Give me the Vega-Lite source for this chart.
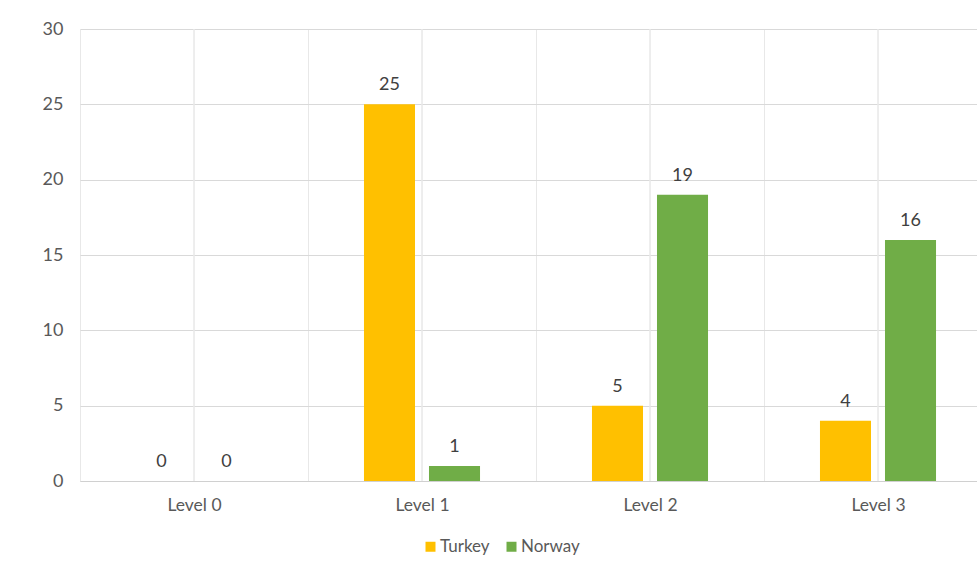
{
  "$schema": "https://vega.github.io/schema/vega-lite/v6.json",
  "width": 897,
  "height": 452,
  "autosize": {"type": "none"},
  "padding": {"left": 80, "top": 29, "right": 0, "bottom": 91},
  "background": "white",
  "config": {"view": {"stroke": null}, "font": "Lato"},
  "data": {
    "values": [
      {"Level": "Level 0", "Country": "Turkey", "Value": 0},
      {"Level": "Level 0", "Country": "Norway", "Value": 0},
      {"Level": "Level 1", "Country": "Turkey", "Value": 25},
      {"Level": "Level 1", "Country": "Norway", "Value": 1},
      {"Level": "Level 2", "Country": "Turkey", "Value": 5},
      {"Level": "Level 2", "Country": "Norway", "Value": 19},
      {"Level": "Level 3", "Country": "Turkey", "Value": 4},
      {"Level": "Level 3", "Country": "Norway", "Value": 16}
    ]
  },
  "encoding": {
    "x": {
      "field": "Level",
      "type": "nominal",
      "sort": ["Level 0", "Level 1", "Level 2", "Level 3"],
      "scale": {"range": [0, 912], "paddingInner": 0, "paddingOuter": 0},
      "axis": {
        "title": null,
        "grid": true,
        "tickBand": "extent",
        "gridColor": "#e8e8e8",
        "domainColor": "#d0d0d0",
        "ticks": false,
        "labelAngle": 0,
        "labelFontSize": 17.5,
        "labelColor": "#595959",
        "labelPadding": 15
      }
    }
  },
  "layer": [
    {
      "mark": {"type": "rule", "color": "#e8e8e8", "strokeWidth": 1},
      "encoding": {}
    },
    {
      "mark": {"type": "bar"},
      "encoding": {
        "xOffset": {
          "field": "Country",
          "sort": ["Turkey", "Norway"],
          "scale": {"paddingInner": 0.215, "paddingOuter": 0.861}
        },
        "y": {
          "field": "Value",
          "type": "quantitative",
          "scale": {"domain": [0, 30]},
          "axis": {
            "title": null,
            "values": [0, 5, 10, 15, 20, 25, 30],
            "grid": true,
            "gridColor": "#d9d9d9",
            "domain": false,
            "ticks": false,
            "labelFontSize": 18,
            "labelColor": "#595959",
            "labelPadding": 17
          }
        },
        "color": {
          "field": "Country",
          "type": "nominal",
          "scale": {"domain": ["Turkey", "Norway"], "range": ["#FFC000", "#70AD47"]},
          "legend": {
            "title": null,
            "orient": "none",
            "direction": "horizontal",
            "legendX": 342,
            "legendY": 509,
            "symbolType": "square",
            "symbolSize": 100,
            "symbolStrokeWidth": 0,
            "labelFontSize": 17,
            "labelColor": "#595959",
            "labelOffset": 1,
            "columnPadding": 13
          }
        }
      }
    },
    {
      "mark": {"type": "text", "fontSize": 18, "color": "#404040", "baseline": "middle", "dy": -19},
      "encoding": {
        "xOffset": {"field": "Country", "sort": ["Turkey", "Norway"]},
        "y": {"field": "Value", "type": "quantitative"},
        "text": {"field": "Value", "type": "quantitative"}
      }
    }
  ]
}
